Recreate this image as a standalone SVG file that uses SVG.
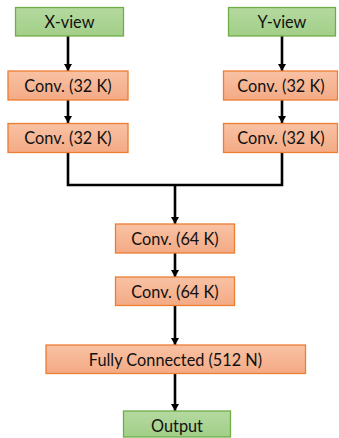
<svg xmlns="http://www.w3.org/2000/svg" width="339" height="438" viewBox="0 0 339 438">
<defs>
<linearGradient id="gG" x1="0" y1="0" x2="0" y2="1"><stop offset="0" stop-color="#b5d9a0"/><stop offset="1" stop-color="#a2cf88"/></linearGradient>
<linearGradient id="gO" x1="0" y1="0" x2="0" y2="1"><stop offset="0" stop-color="#f8c2a4"/><stop offset="1" stop-color="#f4aa85"/></linearGradient>
<marker id="ah" markerWidth="7" markerHeight="8" refX="7" refY="4" orient="auto" markerUnits="userSpaceOnUse"><path d="M0,0 L7,4 L0,8 Z" fill="#000"/></marker>
</defs>
<style>
.g{fill:url(#gG);stroke:#70ad47;stroke-width:1.3}
.o{fill:url(#gO);stroke:#ed7d31;stroke-width:1.3}
text{font-family:Lato,"Liberation Sans",Arial,sans-serif;font-size:16.3px;fill:#111;text-anchor:middle}
.c{fill:none;stroke:#000;stroke-width:2.6}
</style>
<g id="connectors">
<line class="c" x1="68" y1="36" x2="68" y2="71" marker-end="url(#ah)"/>
<line class="c" x1="68" y1="100" x2="68" y2="123" marker-end="url(#ah)"/>
<line class="c" x1="282" y1="36" x2="282" y2="71" marker-end="url(#ah)"/>
<line class="c" x1="282" y1="100" x2="282" y2="123" marker-end="url(#ah)"/>
<polyline class="c" points="68,152 68,185 282,185 282,152"/>
<line class="c" x1="175" y1="185" x2="175" y2="224" marker-end="url(#ah)"/>
<line class="c" x1="175" y1="253" x2="175" y2="277" marker-end="url(#ah)"/>
<line class="c" x1="175" y1="305" x2="175" y2="345" marker-end="url(#ah)"/>
<line class="c" x1="175" y1="373" x2="175" y2="411" marker-end="url(#ah)"/>
</g>
<g id="xview"><rect class="g" x="15.5" y="7.5" width="108" height="28.5"/><text x="69.5" y="27.5">X-view</text></g>
<g id="yview"><rect class="g" x="228.5" y="7.5" width="107" height="28.5"/><text x="282" y="27.5">Y-view</text></g>
<g id="convL1"><rect class="o" x="8" y="71" width="120" height="29"/><text x="68" y="91.5">Conv. (32 K)</text></g>
<g id="convL2"><rect class="o" x="8" y="123.5" width="120" height="29"/><text x="68" y="144">Conv. (32 K)</text></g>
<g id="convR1"><rect class="o" x="223.5" y="71" width="114" height="29"/><text x="281" y="91.5">Conv. (32 K)</text></g>
<g id="convR2"><rect class="o" x="223.5" y="123.5" width="114" height="29"/><text x="281" y="144">Conv. (32 K)</text></g>
<g id="conv64a"><rect class="o" x="115.5" y="224" width="119" height="29"/><text x="175" y="244.5">Conv. (64 K)</text></g>
<g id="conv64b"><rect class="o" x="115.5" y="277" width="119" height="28.5"/><text x="175" y="297.5">Conv. (64 K)</text></g>
<g id="fc"><rect class="o" x="46" y="345" width="259.5" height="28.5"/><text x="175.5" y="365.5">Fully Connected (512 N)</text></g>
<g id="output"><rect class="g" x="123.5" y="411" width="107" height="26"/><text x="177" y="432">Output</text></g>
</svg>
